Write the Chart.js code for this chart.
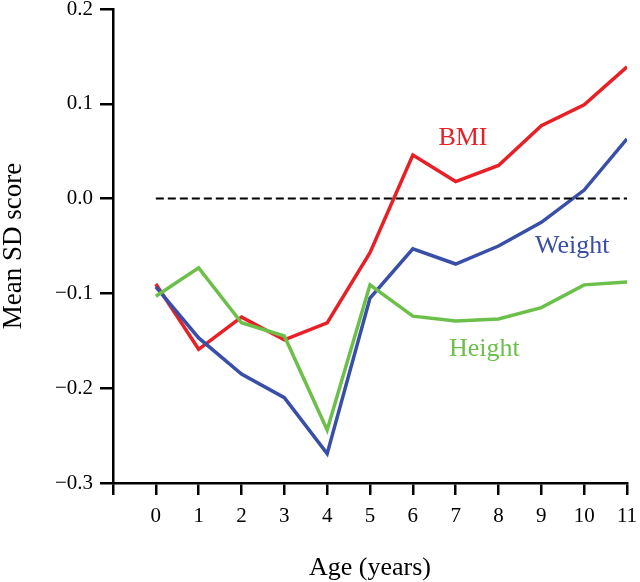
<!DOCTYPE html>
<html>
<head>
<meta charset="utf-8">
<script src="https://cdn.jsdelivr.net/npm/chart.js@4/dist/chart.umd.min.js"></script>
<style>
  html, body { margin: 0; padding: 0; background: #fff; }
</style>
</head>
<body>
<canvas id="chart" width="640" height="582"></canvas>
<script>
// age in years
const ages = [0, 1, 2, 3, 4, 5, 6, 7, 8, 9, 10, 11];

// mean SD scores
const bmi    = [-0.090, -0.159, -0.125, -0.149, -0.131, -0.057, 0.046, 0.018, 0.035, 0.077, 0.099, 0.139];
const weight = [-0.093, -0.147, -0.185, -0.210, -0.269, -0.105, -0.053, -0.069, -0.050, -0.025, 0.009, 0.063];
const height = [-0.103, -0.073, -0.131, -0.145, -0.244, -0.091, -0.124, -0.129, -0.127, -0.115, -0.091, -0.088];

// reference line at zero
const refAges = [0, 11];
const refValues = [0, 0];

const RED = 'rgb(232,32,38)';
const BLUE = 'rgb(56,78,168)';
const GREEN = 'rgb(108,192,74)';
const SERIF = '"Liberation Serif", "Times New Roman", serif';

function toPoints(xs, ys) {
    return xs.map((x, i) => ({ x: x, y: ys[i] }));
}

// series names written next to the lines (data coordinates)
const seriesLabels = [
    { text: 'BMI', x: 7.17, y: 0.066, color: RED },
    { text: 'Weight', x: 9.72, y: -0.048, color: BLUE },
    { text: 'Height', x: 7.67, y: -0.157, color: GREEN }
];

const labelPlugin = {
    id: 'seriesLabels',
    afterDatasetsDraw(chart) {
        const ctx = chart.ctx;
        const xs = chart.scales.x;
        const ys = chart.scales.y;
        ctx.save();
        ctx.font = '26px ' + SERIF;
        ctx.textAlign = 'center';
        ctx.textBaseline = 'middle';
        seriesLabels.forEach(l => {
            ctx.fillStyle = l.color;
            ctx.fillText(l.text, xs.getPixelForValue(l.x), ys.getPixelForValue(l.y) + 2);
        });
        ctx.restore();
    }
};

const lineStyle = { borderWidth: 3.5, pointRadius: 0, tension: 0, fill: false };

new Chart(document.getElementById('chart').getContext('2d'), {
    type: 'line',
    data: {
        datasets: [
            Object.assign({ label: 'Zero', data: toPoints(refAges, refValues), borderColor: '#000',
                borderDash: [8, 4] }, lineStyle, { borderWidth: 2 }),
            Object.assign({ label: 'Height', data: toPoints(ages, height), borderColor: GREEN }, lineStyle),
            Object.assign({ label: 'Weight', data: toPoints(ages, weight), borderColor: BLUE }, lineStyle),
            Object.assign({ label: 'BMI', data: toPoints(ages, bmi), borderColor: RED }, lineStyle)
        ]
    },
    options: {
        responsive: false,
        animation: false,
        layout: { padding: { top: 9, right: 13, left: 0, bottom: 0 } },
        plugins: { legend: { display: false }, tooltip: { enabled: false } },
        scales: {
            x: {
                type: 'linear',
                min: -1,
                max: 11,
                border: { color: '#000', width: 2.5 },
                grid: { drawOnChartArea: false, color: '#000', lineWidth: 2.5, tickLength: 12 },
                ticks: {
                    stepSize: 1,
                    color: '#000',
                    padding: 11,
                    maxRotation: 0,
                    autoSkip: false,
                    font: { family: SERIF, size: 21, lineHeight: 1 },
                    callback: v => (v < 0 ? '' : String(v))
                },
                title: {
                    display: true,
                    text: 'Age (years)',
                    color: '#000',
                    padding: { top: 0, bottom: 1 },
                    font: { family: SERIF, size: 26, lineHeight: 1 }
                },
                afterFit(scale) {
                    scale.height = 99;
                    scale.paddingLeft = 0;
                    scale.paddingRight = 0;
                }
            },
            y: {
                min: -0.3,
                max: 0.2,
                border: { color: '#000', width: 2.5 },
                grid: { drawOnChartArea: false, color: '#000', lineWidth: 2.5, tickLength: 13 },
                ticks: {
                    stepSize: 0.1,
                    color: '#000',
                    padding: 7,
                    font: { family: SERIF, size: 21, lineHeight: 1 },
                    callback: v => {
                        const s = Math.abs(v) < 1e-9 ? '0.0' : v.toFixed(1);
                        return s.replace('-', '\u2212');
                    }
                },
                title: {
                    display: true,
                    text: 'Mean SD score',
                    color: '#000',
                    padding: { top: 0, bottom: 0 },
                    font: { family: SERIF, size: 27, lineHeight: 1 }
                },
                afterFit(scale) {
                    scale.width = 113;
                    scale.paddingTop = 0;
                    scale.paddingBottom = 0;
                }
            }
        }
    },
    plugins: [labelPlugin]
});
</script>
</body>
</html>
